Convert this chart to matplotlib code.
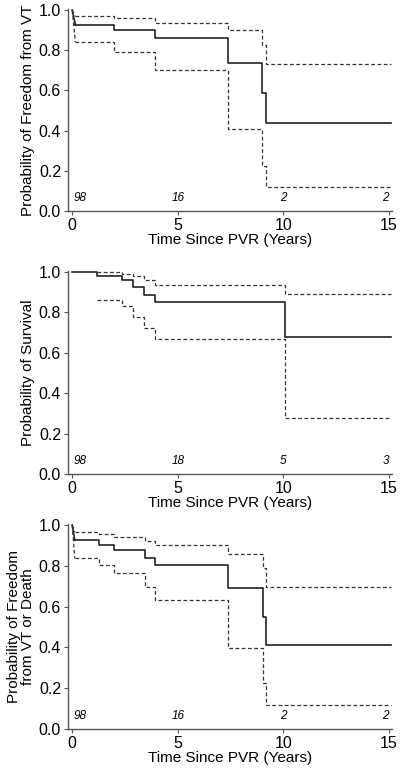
import matplotlib
matplotlib.use('Agg')
import matplotlib.pyplot as plt

plt.rcParams['font.family'] = ['Liberation Sans', 'DejaVu Sans']

# panel 1: freedom from VT
vt_t = [0, 0.15, 2.0, 3.9, 7.4, 9.0, 9.18, 15.1]
vt_est = [1.0, 0.926, 0.899, 0.860, 0.734, 0.588, 0.436, 0.436]
vt_hi = [1.0, 0.968, 0.958, 0.937, 0.899, 0.826, 0.731, 0.731]
vt_lo = [1.0, 0.840, 0.790, 0.700, 0.408, 0.226, 0.118, 0.118]
vt_risk = ['98', '16', '2', '2']

# panel 2: survival
surv_t = [0, 1.17, 2.35, 2.9, 3.42, 3.92, 10.06, 15.1]
surv_est = [1.0, 0.980, 0.957, 0.923, 0.887, 0.848, 0.677, 0.677]
surv_hi_t = [1.17, 2.35, 2.9, 3.42, 3.92, 10.06, 15.1]
surv_hi = [1.0, 0.990, 0.977, 0.960, 0.936, 0.890, 0.890]
surv_lo = [0.861, 0.830, 0.775, 0.723, 0.667, 0.279, 0.279]
surv_risk = ['98', '18', '5', '3']

# panel 3: freedom from VT or death
vd_t = [0, 0.12, 1.26, 1.97, 3.47, 3.94, 7.38, 9.04, 9.18, 15.1]
vd_est = [1.0, 0.925, 0.902, 0.876, 0.840, 0.803, 0.691, 0.551, 0.413, 0.413]
vd_hi = [1.0, 0.966, 0.954, 0.940, 0.922, 0.900, 0.857, 0.789, 0.696, 0.696]
vd_lo = [1.0, 0.836, 0.803, 0.763, 0.698, 0.633, 0.398, 0.226, 0.118, 0.118]
vd_risk = ['98', '16', '2', '2']

risk_x = [0, 5, 10, 15]

fig = plt.figure(figsize=(4.0, 7.69), dpi=100)
ax1 = fig.add_axes([0.17, 0.7256, 0.81, 0.2627])
ax2 = fig.add_axes([0.17, 0.3836, 0.81, 0.2644])
ax3 = fig.add_axes([0.17, 0.0520, 0.81, 0.2666])

solid = dict(color='#222222', lw=1.2)
dash = dict(color='#333333', lw=0.9, ls=(0, (3, 2)))


def km(ax, t, est, hi, lo, slant=True):
    # first segment drawn as a slope, rest as steps
    if slant:
        ax.plot(t[:2], est[:2], **solid)
        ax.plot(t[:2], hi[:2], **dash)
        ax.plot(t[:2], lo[:2], **dash)
        t, est, hi, lo = t[1:], est[1:], hi[1:], lo[1:]
    ax.step(t, est, where='post', **solid)
    ax.step(t, hi, where='post', **dash)
    ax.step(t, lo, where='post', **dash)


def style(ax, ylabel, risk):
    ax.set_xlim(-0.2, 15.15)
    ax.set_ylim(0, 1.005)
    ax.set_xticks([0, 5, 10, 15])
    ax.set_yticks([0.0, 0.2, 0.4, 0.6, 0.8, 1.0])
    ax.set_yticklabels(['0.0', '0.2', '0.4', '0.6', '0.8', '1.0'])
    for s in ['top', 'right']:
        ax.spines[s].set_visible(False)
    for s in ['left', 'bottom']:
        ax.spines[s].set_color('#555555')
        ax.spines[s].set_linewidth(1.0)
    ax.tick_params(direction='out', length=3, width=0.8, color='#555555',
                   labelsize=11.5, pad=2)
    ax.set_xlabel('Time Since PVR (Years)', fontsize=11, labelpad=0)
    ax.set_ylabel(ylabel, fontsize=11, labelpad=3, linespacing=1.0)
    for i, (x, r) in enumerate(zip(risk_x, risk)):
        ha = 'left' if i == 0 else ('right' if i == 3 else 'center')
        ax.text(x + (0.05 if i == 0 else 0), 0.035, r, style='italic', fontsize=8.5,
                ha=ha, va='bottom')


km(ax1, vt_t, vt_est, vt_hi, vt_lo)
style(ax1, 'Probability of Freedom from VT', vt_risk)

ax2.step(surv_t, surv_est, where='post', **solid)
ax2.step(surv_hi_t, surv_hi, where='post', **dash)
ax2.step(surv_hi_t, surv_lo, where='post', **dash)
style(ax2, 'Probability of Survival', surv_risk)

km(ax3, vd_t, vd_est, vd_hi, vd_lo)
style(ax3, 'Probability of Freedom\nfrom VT or Death', vd_risk)

fig.savefig('out.png', dpi=100)
